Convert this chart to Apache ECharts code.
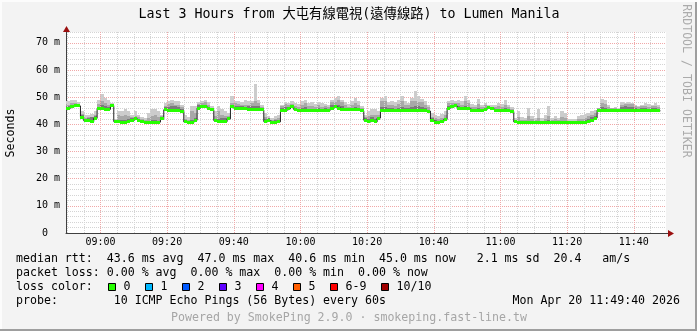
<!DOCTYPE html>
<html><head><meta charset="utf-8">
<script src="https://cdn.jsdelivr.net/npm/echarts@6/dist/echarts.min.js"></script>
<style>html,body{margin:0;padding:0;background:#f3f3f3}#c{width:697px;height:331px}</style>
</head><body><div id="c"></div>
<script>
// ---- data ----
const firstSampleMinute = 8 * 60 + 50; // sample ending 08:50, one sample per minute
const axisStartMinute = 8 * 60 + 49 + 40 / 60; // 08:49:40
const axisEndMinute = 11 * 60 + 49 + 40 / 60;  // 11:49:40

const median = [
46.0,46.0,46.4,47.0,46.8,42.6,41.3,41.4,41.0,42.2,
45.8,45.8,45.6,45.5,46.9,41.0,40.9,40.8,40.8,41.2,
41.5,42.0,41.4,40.9,40.8,40.8,40.7,40.8,40.8,42.0,
45.4,45.2,45.2,45.2,45.2,44.9,40.9,40.8,40.8,41.5,
46.0,46.7,46.4,45.7,45.4,41.4,40.9,40.9,41.0,42.0,
46.7,45.9,45.9,45.8,45.8,45.4,45.4,45.4,45.4,45.3,
41.0,41.3,40.8,40.8,40.9,45.2,45.2,45.7,46.5,45.4,
45.1,45.1,45.1,45.1,45.1,45.1,45.1,45.1,45.1,45.2,
46.0,46.4,46.0,45.5,45.5,45.5,45.5,45.5,45.4,45.0,
41.5,40.9,41.3,40.9,42.3,45.1,45.1,45.1,45.1,45.1,
45.1,45.1,45.1,45.1,45.1,45.1,45.1,45.1,45.1,44.9,
41.4,40.8,40.8,40.9,41.8,46.0,46.4,46.8,46.0,45.7,
46.0,45.7,45.2,45.2,45.2,45.2,45.4,46.2,45.7,45.1,
45.1,45.1,45.1,45.1,44.7,40.9,40.8,40.8,40.8,40.8,
40.8,40.8,40.8,40.6,40.8,40.8,40.8,40.8,40.8,40.8,
40.8,40.8,40.8,40.8,40.8,40.8,40.8,40.9,41.6,42.3,
45.2,45.2,45.2,45.2,45.2,45.2,45.2,45.2,45.2,45.2,
45.2,45.2,45.2,45.2,45.2,45.2,45.2,45.2,45.0];

const smokeLightTop = [
48.5,48.5,48.8,49.1,48.3,44.8,43.4,43.6,43.9,44.8,
49.1,51.0,49.7,48.8,47.9,41.8,44.8,44.8,45.5,44.8,
43.6,44.8,43.6,42.6,42.4,44.2,45.5,45.5,44.8,43.6,
47.9,48.5,49.1,48.5,48.5,47.3,43.6,42.6,46.7,46.7,
48.3,48.5,49.1,48.3,46.7,44.8,46.7,45.5,44.8,44.2,
50.4,48.5,48.5,48.3,48.8,48.5,48.5,55.0,49.1,47.3,
44.2,43.0,42.4,43.0,43.6,47.3,48.2,47.9,48.5,47.9,
47.5,48.5,49.1,47.9,48.3,47.5,48.3,47.9,47.5,47.3,
49.1,49.7,50.4,49.1,48.3,47.5,48.5,49.7,48.5,46.7,
43.6,44.8,45.5,45.5,44.8,49.7,50.4,48.3,48.5,48.3,
49.1,50.4,48.5,47.9,49.7,52.2,50.4,49.5,48.5,47.3,
44.2,43.6,43.0,43.9,44.8,48.5,48.8,48.5,49.1,48.5,
50.4,49.1,47.5,47.3,49.5,47.3,47.9,47.3,47.3,47.1,
47.9,47.5,48.8,47.3,46.3,42.4,44.8,42.6,42.4,46.1,
43.0,42.4,45.5,42.4,43.6,46.7,42.4,43.0,42.4,44.8,
44.2,42.1,41.8,41.8,43.0,43.4,43.9,44.2,44.8,45.1,
46.1,49.5,49.1,47.3,46.1,46.3,46.1,48.3,47.9,48.3,
47.9,47.3,46.7,47.3,47.9,47.5,47.3,47.9,47.3];

const smokeMidTop = [
47.5,47.3,47.8,48.0,47.5,43.8,42.5,42.8,42.8,43.5,
47.5,48.5,47.9,47.3,47.5,41.5,43.6,43.0,43.5,43.0,
42.6,43.2,42.6,41.8,41.6,42.5,43.0,43.3,42.8,42.9,
46.8,47.5,47.9,47.3,47.0,46.3,42.0,41.6,44.8,44.2,
47.5,47.9,48.3,47.3,46.0,43.0,44.8,43.6,43.0,43.2,
47.9,47.9,47.5,47.3,47.3,47.3,47.9,48.5,47.9,46.5,
42.8,42.3,41.6,42.0,42.4,46.7,47.5,47.3,47.5,46.8,
46.5,47.3,47.9,46.7,46.9,46.3,47.1,46.5,46.7,46.3,
48.3,48.3,48.8,48.3,47.3,46.5,47.3,47.9,47.3,46.0,
42.6,43.2,43.6,43.6,43.5,48.5,48.5,47.3,47.3,46.9,
47.5,48.5,47.1,47.3,48.5,48.5,48.3,48.3,47.3,46.3,
42.8,42.3,41.9,42.5,43.4,47.9,47.9,47.9,47.9,47.3,
48.5,47.9,46.5,46.3,47.5,46.3,47.3,46.9,46.5,46.3,
46.7,46.5,47.3,46.3,45.8,41.6,42.8,41.6,41.5,43.0,
41.8,41.5,42.5,41.4,42.0,43.2,41.5,41.8,41.5,42.6,
42.4,41.4,41.3,41.3,41.9,42.0,42.3,43.0,43.6,44.0,
45.9,47.9,47.5,46.5,45.9,45.9,45.8,47.3,47.5,47.5,
47.5,46.7,46.3,46.7,46.9,46.5,46.7,46.9,46.3];

const smokeDarkTop = [
46.9,46.9,47.3,47.6,47.2,43.3,41.9,42.2,42.6,43.0,
46.5,47.0,46.7,46.4,47.3,41.3,41.6,41.5,41.6,42.1,
42.3,42.8,42.0,41.3,41.1,41.4,41.6,41.5,41.3,42.5,
46.3,46.5,46.8,46.7,46.3,45.6,41.3,41.1,41.6,42.4,
47.0,47.2,47.3,46.5,45.8,42.0,41.8,42.3,42.4,42.6,
47.3,46.7,46.7,46.6,46.4,46.6,46.8,46.8,46.6,45.8,
41.9,42.2,41.3,41.6,41.5,45.9,46.3,46.5,47.2,46.0,
45.6,46.1,46.4,45.8,45.7,45.6,46.0,45.7,45.9,45.7,
47.0,47.2,47.1,46.8,46.2,45.9,46.1,46.4,46.2,45.4,
42.3,41.8,42.6,42.0,42.8,46.3,46.5,46.0,46.2,45.8,
46.1,46.5,45.9,46.2,46.5,46.6,46.7,46.4,46.0,45.4,
42.2,41.5,41.3,41.6,42.3,46.8,47.1,47.3,46.7,46.3,
46.9,46.5,45.7,45.6,46.0,45.6,46.1,46.6,46.2,45.6,
45.7,45.6,45.9,45.5,45.3,41.2,41.3,41.1,41.1,41.4,
41.1,41.1,41.3,40.9,41.2,41.5,41.1,41.2,41.1,41.3,
41.3,41.1,41.0,41.0,41.2,41.3,41.5,42.0,42.6,43.0,
45.6,46.3,46.2,45.8,45.6,45.6,45.5,46.4,46.6,46.5,
46.3,45.9,45.7,45.9,46.1,45.8,45.9,46.0,45.6];

const xLabelTimes = ['09:00','09:20','09:40','10:00','10:20','10:40','11:00','11:20','11:40'];
const yMax = 74;
const yLabelStep = 10;

const titleText = 'Last 3 Hours from 大屯有線電視(遠傳線路) to Lumen Manila';
const legendLines = [
  'median rtt:  43.6 ms avg  47.0 ms max  40.6 ms min  45.0 ms now   2.1 ms sd  20.4   am/s',
  'packet loss: 0.00 % avg  0.00 % max  0.00 % min  0.00 % now',
  'loss color:',
  'probe:        10 ICMP Echo Pings (56 Bytes) every 60s'
];
const dateText = 'Mon Apr 20 11:49:40 2026';
const footerText = 'Powered by SmokePing 2.9.0 · smokeping.fast-line.tw';
const lossLegend = [['0','#26ff00'],['1','#00b8ff'],['2','#0059ff'],['3','#5e00ff'],['4','#ff00ff'],['5','#ff5e00'],['6-9','#ff0000'],['10/10','#a10000']];

// ---- derived ----
const toMin = s => { const [h, m] = s.split(':').map(Number); return h * 60 + m; };
const labelMinutes = xLabelTimes.map(toMin);
const sampleTimes = median.map((_, i) => firstSampleMinute + i);
const fmt = v => { const m = Math.round(v); return String(Math.floor(m / 60)).padStart(2, '0') + ':' + String(m % 60).padStart(2, '0'); };

const MONO = "'DejaVu Sans Mono', 'Noto Sans CJK TC', monospace";
const vGrid = [];
for (let m = 530; m < axisEndMinute; m += 5) vGrid.push(m);
const majorSet = new Set(labelMinutes);

function pixelRect(a0, a1, y0, y1, cs) {
  const x0 = Math.round(a0), x1 = Math.round(a1);
  return echarts.graphic.clipRectByRect(
    { x: x0, y: Math.round(y0), width: x1 - x0, height: Math.round(y1) - Math.round(y0) },
    { x: cs.x, y: cs.y, width: cs.width, height: cs.height });
}

function bandSeries(name, tops, color, z) {
  return {
    name, type: 'custom', z, silent: true, animation: false,
    data: sampleTimes.map((t, i) => [t, median[i], tops[i]]),
    encode: { x: 0, y: [1, 2] },
    renderItem(params, api) {
      const t = api.value(0), m = api.value(1), top = api.value(2);
      const a = api.coord([t - 1, top]);
      const b = api.coord([t, m]);
      const r = pixelRect(a[0], b[0], a[1], b[1], params.coordSys);
      return r ? { type: 'rect', shape: r, style: { fill: color } } : null;
    }
  };
}

const chart = echarts.init(document.getElementById('c'), null, { renderer: 'canvas' });

const graphics = [
  { type: 'rect', shape: { x: 0, y: 329, width: 697, height: 2 }, style: { fill: '#9e9e9e' }, silent: true },
  { type: 'rect', shape: { x: 695, y: 0, width: 2, height: 331 }, style: { fill: '#9e9e9e' }, silent: true },
  { type: 'rect', shape: { x: 0, y: 0, width: 697, height: 2 }, style: { fill: '#fcfcfc' }, silent: true },
  { type: 'rect', shape: { x: 0, y: 0, width: 2, height: 329 }, style: { fill: '#fcfcfc' }, silent: true },
  { type: 'text', x: 349, y: 15, style: { text: titleText, font: '13.3px ' + MONO, fill: '#000', align: 'center', verticalAlign: 'middle' } },
  { type: 'text', x: 11, y: 133, rotation: Math.PI / 2, style: { text: 'Seconds', font: '11.6px ' + MONO, fill: '#000', align: 'center', verticalAlign: 'middle' } },
  { type: 'text', x: 686, y: 81, rotation: -Math.PI / 2, style: { text: 'RRDTOOL / TOBI OETIKER', font: '11.6px ' + MONO, fill: '#ababab', align: 'center', verticalAlign: 'middle' } },
  // axis arrows
  { type: 'polygon', shape: { points: [[66.5, 26], [63, 32], [70, 32]] }, style: { fill: '#9b1010' }, z: 100 },
  { type: 'line', shape: { x1: 666, y1: 233.5, x2: 669, y2: 233.5 }, style: { stroke: '#404040', lineWidth: 1 }, z: 100 },
  { type: 'polygon', shape: { points: [[674, 233.5], [668, 230], [668, 237]] }, style: { fill: '#9b1010' }, z: 100 },
  { type: 'text', x: 680, y: 301.3, style: { text: dateText, font: '11.6px ' + MONO, fill: '#000', align: 'right', verticalAlign: 'middle' } },
  { type: 'text', x: 349, y: 318, style: { text: footerText, font: '11.6px ' + MONO, fill: '#a6a6a6', align: 'center', verticalAlign: 'middle' } }
];
legendLines.forEach((s, i) => {
  graphics.push({ type: 'text', x: 16, y: 259.3 + i * 14, style: { text: s, font: '11.6px ' + MONO, fill: '#000', align: 'left', verticalAlign: 'middle' } });
});
let lx = 108;
lossLegend.forEach(([lab, col]) => {
  graphics.push({ type: 'rect', shape: { x: lx + 0.5, y: 283.5, width: 7, height: 7 }, style: { fill: col, stroke: '#000', lineWidth: 1 } });
  graphics.push({ type: 'text', x: lx + 15.5, y: 287.3, style: { text: lab, font: '11.6px ' + MONO, fill: '#000', align: 'left', verticalAlign: 'middle' } });
  lx += 30 + 7 * lab.length;
});

chart.setOption({
  backgroundColor: '#f3f3f3',
  animation: false,
  grid: { left: 66, top: 32, width: 600, height: 201, show: true, backgroundColor: '#ffffff', borderWidth: 0 },
  xAxis: {
    type: 'value', min: axisStartMinute, max: axisEndMinute,
    axisLine: { show: true, onZero: false, lineStyle: { color: '#404040', width: 1 } },
    axisTick: { show: false },
    splitLine: { show: false },
    axisLabel: { customValues: labelMinutes, formatter: fmt, fontFamily: MONO, fontSize: 10, color: '#000', margin: 4 }
  },
  yAxis: {
    type: 'value', min: 0, max: yMax, interval: 2,
    axisLine: { show: true, lineStyle: { color: '#404040', width: 1 } },
    axisTick: { show: false },
    axisLabel: { interval: 0, formatter: v => (v % yLabelStep === 0 ? (v === 0 ? '0  ' : v + ' m') : ''), fontFamily: MONO, fontSize: 10, color: '#000', margin: 6 },
    splitLine: { show: true, lineStyle: { color: ['#f0a8a8', '#d4d4d4', '#d4d4d4', '#d4d4d4', '#d4d4d4'], type: [1, 1], width: 1 } }
  },
  series: [
    {
      type: 'line', data: [], z: 1, silent: true, animation: false,
      markLine: {
        silent: true, animation: false, symbol: ['none', 'none'], label: { show: false },
        data: vGrid.map(m => ({ xAxis: m, lineStyle: { color: majorSet.has(m) ? '#f0a8a8' : '#d4d4d4', type: [1, 1], width: 1 } }))
      }
    },
    bandSeries('light', smokeLightTop, '#cccccc', 2),
    bandSeries('mid', smokeMidTop, '#a8a8a8', 3),
    bandSeries('dark', smokeDarkTop, '#7a7a7a', 4),
    {
      type: 'line', step: 'start', z: 5, silent: true, animation: false, symbol: 'none',
      data: sampleTimes.map((t, i) => [t, median[i]]),
      lineStyle: { color: '#202020', width: 1 }
    },
    {
      type: 'custom', z: 6, silent: true, animation: false,
      data: sampleTimes.map((t, i) => [t, median[i]]),
      encode: { x: 0, y: 1 },
      renderItem(params, api) {
        const t = api.value(0), m = api.value(1);
        const a = api.coord([t - 1, m]);
        const b = api.coord([t, m]);
        const r = pixelRect(a[0], b[0], a[1] - 1.5, a[1] + 1.5, params.coordSys);
        return r ? { type: 'rect', shape: r, style: { fill: '#26ff00' } } : null;
      }
    }
  ],
  graphic: graphics
});
</script></body></html>
